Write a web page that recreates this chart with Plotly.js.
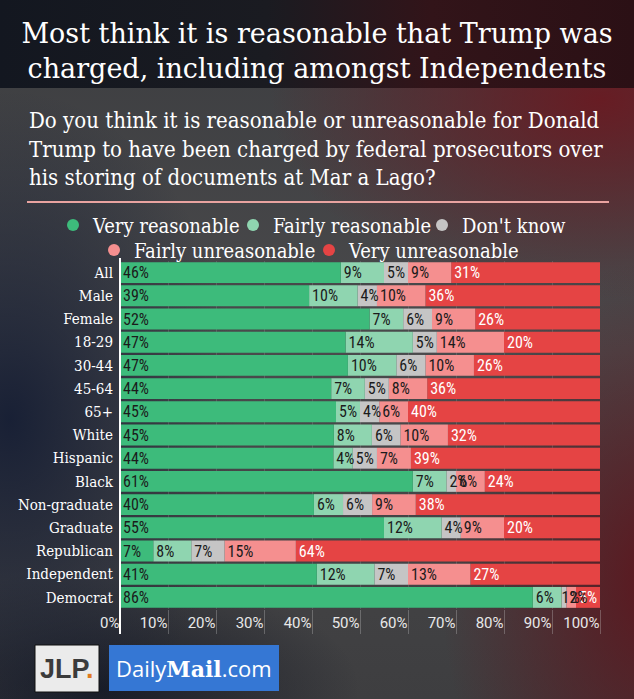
<!DOCTYPE html>
<html>
<head>
<meta charset="utf-8">
<script src="https://cdn.plot.ly/plotly-3.0.1.min.js"></script>
<style>
  html, body { margin: 0; padding: 0; }
  body { width: 634px; height: 699px; overflow: hidden; position: relative; }
  #bg {
    position: absolute; left: 0; top: 0; width: 634px; height: 699px;
    background-color: #444446;
    background-image:
      linear-gradient(90deg, #131720 0%, #1a1b21 42%, #321419 68%, #2b1015 100%),
      radial-gradient(ellipse 230px 330px at 10px 420px, rgba(22,30,52,0.95), rgba(22,30,52,0) 100%),
      radial-gradient(ellipse 330px 200px at 600px 100px, rgba(110,22,30,0.85), rgba(110,22,30,0) 100%),
      radial-gradient(ellipse 220px 320px at 660px 580px, rgba(95,18,26,0.9), rgba(95,18,26,0) 100%),
      radial-gradient(ellipse 260px 120px at 100px 690px, rgba(20,24,36,0.9), rgba(20,24,36,0) 100%),
      linear-gradient(180deg, #3c3d40 0%, #4a4a4c 50%, #3e3e40 100%);
    background-size: 634px 88px, 100% 100%, 100% 100%, 100% 100%, 100% 100%, 100% 100%;
    background-position: 0 0, 0 0, 0 0, 0 0, 0 0, 0 0;
    background-repeat: no-repeat;
  }
  #chart { position: absolute; left: 0; top: 0; width: 634px; height: 699px; }
</style>
</head>
<body>
<div id="bg"></div>
<div id="chart"></div>
<script>
// ---- Data ----
const categories = ['All','Male','Female','18-29','30-44','45-64','65+','White','Hispanic','Black','Non-graduate','Graduate','Republican','Independent','Democrat'];
const seriesNames = ['Very reasonable','Fairly reasonable',"Don't know",'Fairly unreasonable','Very unreasonable'];
const veryReasonable     = [46,39,52,47,47,44,45,45,44,61,40,55, 7,41,86];
const fairlyReasonable   = [ 9,10, 7,14,10, 7, 5, 8, 4, 7, 6,12, 8,12, 6];
const dontKnow           = [ 5, 4, 6, 5, 6, 5, 4, 6, 5, 2, 6, 4, 7, 7, 1];
const fairlyUnreasonable = [ 9,10, 9,14,10, 8, 6,10, 7, 6, 9, 9,15,13, 2];
const veryUnreasonable   = [31,36,26,20,26,36,40,32,39,24,38,20,64,27, 5];
const xTickVals = [0,10,20,30,40,50,60,70,80,90,100];
const xTickText = ['0%','10%','20%','30%','40%','50%','60%','70%','80%','90%','100%'];

// ---- Styles ----
const colors = ['#3dbb7b','#8fd5b0','#c5c5c5','#f58f8f','#e54444'];
const textColors = ['#1b1b1b','#1b1b1b','#1b1b1b','#1b1b1b','#ffffff'];
const serifC = '"DejaVu Serif Condensed", "DejaVu Serif", serif';
const serif = '"DejaVu Serif", serif';
const sans = 'Roboto, "Liberation Sans", sans-serif';
const narrow = '"Liberation Sans Narrow", "Roboto Condensed", Roboto, sans-serif';

// plot-area geometry in pixels (for placing decorations)
const L = 120, R = 600, T = 261, B = 609;
const px = v => (v - L) / (R - L);
const py = v => (B - v) / (B - T);

const allSeries = [veryReasonable, fairlyReasonable, dontKnow, fairlyUnreasonable, veryUnreasonable];

// 100%-stacked: normalise each row to its total, stack via explicit base
const totals = categories.map((_, r) => allSeries.reduce((s, a) => s + a[r], 0));
const normed = allSeries.map(a => a.map((v, r) => v * 100 / totals[r]));
const bases = allSeries.map((a, i) => categories.map((_, r) => {
  let s = 0; for (let k = 0; k < i; k++) s += normed[k][r]; return s;
}));

const traces = [];
// draw right-most segments first so overflowing labels of left segments stay visible
for (let i = allSeries.length - 1; i >= 0; i--) {
  traces.push({
    type: 'bar',
    orientation: 'h',
    name: seriesNames[i],
    x: normed[i],
    base: bases[i],
    y: categories,
    text: allSeries[i].map(v => v + '%'),
    textposition: 'inside',
    insidetextanchor: 'start',
    textangle: 0,
    textfont: { family: narrow, size: 16, color: textColors[i] },
    marker: { color: colors[i], line: { width: 0 } },
    hoverinfo: 'skip',
    showlegend: false
  });
}

// legend entries with circle markers, one legend per entry for exact placement
const legendIds = ['legend', 'legend2', 'legend3', 'legend4', 'legend5'];
seriesNames.forEach((n, i) => {
  traces.push({
    type: 'scatter',
    mode: 'markers',
    name: n,
    x: [null], y: [null],
    marker: { color: colors[i], size: 14, symbol: 'circle' },
    legend: legendIds[i],
    hoverinfo: 'skip'
  });
});

const legendCommon = {
  orientation: 'h',
  xref: 'paper', yref: 'paper',
  xanchor: 'left', yanchor: 'middle',
  font: { family: serifC, size: 20, color: '#ffffff' },
  bgcolor: 'rgba(0,0,0,0)',
  itemsizing: 'constant',
  itemwidth: 30
};
// marker centre pixel positions: row 1 at y 225, row 2 at y 250
const legendPos = [[73, 225], [253, 225], [442, 225], [114, 250], [329, 250]];

const layout = {
  width: 634, height: 699,
  margin: { l: L, r: 634 - R, t: T, b: 699 - B, pad: 0 },
  paper_bgcolor: 'rgba(0,0,0,0)',
  plot_bgcolor: 'rgba(0,0,0,0)',
  barmode: 'overlay',
  bargap: 0.1,
  uniformtext: { mode: 'show', minsize: 16 },
  title: {
    text: 'Most think it is reasonable that Trump was<br>charged, including amongst Independents',
    font: { family: serif, size: 27, color: '#ffffff' },
    x: 0.5, xanchor: 'center',
    xref: 'container', yref: 'container',
    y: 1 - 43 / 699, yanchor: 'middle'
  },
  showlegend: true,
  xaxis: {
    range: [0, 100],
    tickvals: xTickVals,
    ticktext: xTickText,
    showgrid: true,
    gridcolor: 'rgba(255,255,255,0.13)',
    gridwidth: 1,
    zeroline: false,
    showline: false,
    ticks: 'outside',
    ticklen: 24,
    tickcolor: 'rgba(210,210,210,0.3)',
    tickwidth: 1,
    ticklabelposition: 'outside left',
    tickfont: { family: sans, size: 15, color: '#e8e8e8' },
    fixedrange: true
  },
  yaxis: {
    type: 'category',
    autorange: 'reversed',
    showgrid: false,
    zeroline: false,
    showline: false,
    ticks: '',
    ticklabelstandoff: 6,
    tickfont: { family: serifC, size: 15, color: '#ffffff' },
    fixedrange: true
  },
  shapes: [
    // separator under the question
    { type: 'line', xref: 'paper', yref: 'paper', x0: px(27), x1: px(609), y0: py(202), y1: py(202),
      line: { color: '#e9a3a0', width: 2 } },
    // vertical axis line
    { type: 'line', xref: 'paper', yref: 'paper', x0: 0, x1: 0, y0: py(634), y1: py(258),
      line: { color: '#ffffff', width: 2 } },
    // JLP logo box
    { type: 'rect', xref: 'paper', yref: 'paper', x0: px(35), x1: px(99), y0: py(692), y1: py(645),
      fillcolor: '#ebebeb', line: { color: '#111111', width: 1 } },
    // Daily Mail logo box
    { type: 'rect', xref: 'paper', yref: 'paper', x0: px(109), x1: px(279), y0: py(691), y1: py(645),
      fillcolor: '#3577d4', line: { width: 0 } }
  ],
  annotations: [
    { xref: 'paper', yref: 'paper', x: px(27), y: py(149), xanchor: 'left', yanchor: 'middle', align: 'left',
      showarrow: false,
      text: 'Do you think it is reasonable or unreasonable for Donald<br>Trump to have been charged by federal prosecutors over<br>his storing of documents at Mar a Lago?',
      font: { family: serifC, size: 22, color: '#ffffff' } },
    { xref: 'paper', yref: 'paper', x: px(67), y: py(669), xanchor: 'center', yanchor: 'middle',
      showarrow: false,
      text: '<b>JLP</b><span style="color:#e07a1f"><b>.</b></span>',
      font: { family: '"Liberation Sans", Arial, sans-serif', size: 27, color: '#3b3b3b' } },
    { xref: 'paper', yref: 'paper', x: px(194), y: py(668), xanchor: 'center', yanchor: 'middle',
      showarrow: false,
      text: 'Daily<span style="font-family:DejaVu Serif;font-weight:bold">Mail</span>.com',
      font: { family: '"Open Sans", "Liberation Sans", sans-serif', size: 22, color: '#ffffff' } }
  ]
};
legendIds.forEach((id, i) => {
  layout[id] = Object.assign({}, legendCommon, { x: px(legendPos[i][0] - 20), y: py(legendPos[i][1]) });
});

Plotly.newPlot('chart', traces, layout, { displayModeBar: false, staticPlot: true });
</script>
</body>
</html>
